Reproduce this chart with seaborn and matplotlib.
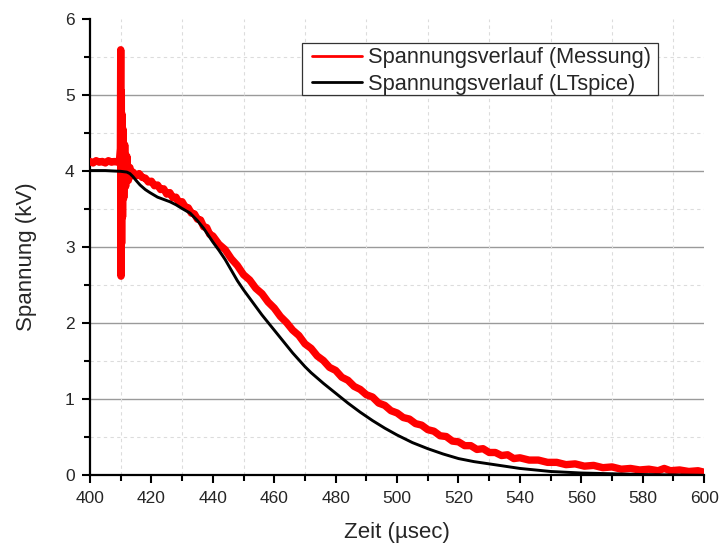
import matplotlib
matplotlib.use("Agg")
import matplotlib.pyplot as plt
from matplotlib.lines import Line2D
from matplotlib.patches import Rectangle
from matplotlib.ticker import MultipleLocator
import pandas as pd
import seaborn as sns

# Measured voltage (kV) over time (µs)
mess_t = [400, 401, 402, 403, 404, 405, 406, 407, 408, 409, 409.6,
          409.9, 410.0, 410.1, 410.2, 410.3, 410.45, 410.6, 410.8, 411.0,
          411.3, 411.6, 412.0, 412.5, 413.0, 413.5,
          414, 415, 416, 417, 418, 419, 420, 421, 422, 423, 424, 425, 426,
          427, 428, 429, 430, 431, 432, 433, 434, 435, 436, 437, 438, 439,
          440, 442, 444, 446, 448, 450, 452, 454, 456, 458,
          460, 462, 464, 466, 468, 470, 472, 474, 476, 478,
          480, 482, 484, 486, 488, 490, 492, 494, 496, 498,
          500, 502, 504, 506, 508, 510, 512, 514, 516, 518,
          520, 522, 524, 526, 528, 530, 532, 534, 536, 538, 540,
          543, 546, 549, 552, 555, 558, 561, 564, 567, 570, 573, 576, 579,
          582, 585, 587, 589, 592, 595, 598, 600]
mess_v = [4.13, 4.11, 4.14, 4.12, 4.13, 4.11, 4.14, 4.12, 4.13, 4.12, 4.15,
          4.30, 5.60, 2.62, 5.05, 3.05, 4.75, 3.40, 4.55, 3.65,
          4.35, 3.80, 4.20, 3.88, 4.05, 3.94,
          3.99, 3.94, 3.97, 3.92, 3.91, 3.86, 3.87, 3.81, 3.82, 3.76, 3.77,
          3.70, 3.72, 3.65, 3.66, 3.59, 3.60, 3.53, 3.52, 3.45, 3.44, 3.37,
          3.36, 3.27, 3.26, 3.17,
          3.15, 3.04, 2.97, 2.85, 2.76, 2.64, 2.57, 2.46, 2.39, 2.28,
          2.20, 2.09, 2.01, 1.91, 1.84, 1.73, 1.67, 1.57, 1.51, 1.42,
          1.38, 1.29, 1.25, 1.17, 1.13, 1.06, 1.03, 0.95, 0.92, 0.85,
          0.82, 0.76, 0.74, 0.68, 0.66, 0.60, 0.58, 0.52, 0.51, 0.45,
          0.44, 0.39, 0.39, 0.34, 0.35, 0.30, 0.30, 0.26, 0.27, 0.22, 0.23,
          0.20, 0.20, 0.17, 0.17, 0.14, 0.15, 0.12, 0.13, 0.10, 0.11, 0.08,
          0.09, 0.07, 0.08, 0.06, 0.09, 0.06, 0.07, 0.05, 0.06, 0.04]

# LTspice simulation
sim_t = [400, 405, 410, 412, 413, 414, 415, 416.3, 418, 419.5, 422, 424,
         426, 428, 430, 432.6, 435, 437, 440, 442, 444, 446, 448, 450, 452,
         454, 456, 458, 460, 462, 464, 466, 468, 470, 472, 474, 476, 478,
         480, 484, 488, 492, 496, 500, 505, 510, 515, 520, 525, 530, 535,
         540, 545, 550, 555, 560, 570, 580, 590, 600]
sim_v = [4.01, 4.01, 4.00, 3.99, 3.97, 3.93, 3.88, 3.82, 3.76, 3.72, 3.66,
         3.63, 3.60, 3.56, 3.51, 3.45, 3.35, 3.25, 3.07, 2.96, 2.84, 2.70,
         2.56, 2.44, 2.33, 2.22, 2.11, 2.01, 1.91, 1.81, 1.71, 1.61, 1.52,
         1.43, 1.35, 1.28, 1.21, 1.145, 1.08, 0.95, 0.83, 0.72, 0.62, 0.53,
         0.43, 0.35, 0.28, 0.22, 0.18, 0.15, 0.12, 0.09, 0.07, 0.05, 0.04,
         0.03, 0.02, 0.01, 0.005, 0.0]

x_ticks = [400, 420, 440, 460, 480, 500, 520, 540, 560, 580, 600]
y_ticks = [0, 1, 2, 3, 4, 5, 6]

labels = ["Spannungsverlauf (Messung)", "Spannungsverlauf (LTspice)"]
colors = ["#ff0000", "#000000"]

sns.set_style("white")
plt.rcParams["font.family"] = ["Liberation Sans", "DejaVu Sans"]

fig = plt.figure(figsize=(7.2, 5.48), dpi=100)
ax = fig.add_axes([0.125, 0.1327, 0.853, 0.832])

df_m = pd.DataFrame({"t": mess_t, "v": mess_v})
df_s = pd.DataFrame({"t": sim_t, "v": sim_v})

sns.lineplot(data=df_m, x="t", y="v", ax=ax, color=colors[0], lw=5.3,
             estimator=None, sort=False, zorder=3)
sns.lineplot(data=df_s, x="t", y="v", ax=ax, color=colors[1], lw=2.1,
             estimator=None, sort=False, zorder=4)

ax.set_xlim(400, 600)
ax.set_ylim(0, 6)
ax.set_xticks(x_ticks)
ax.set_yticks(y_ticks)
ax.xaxis.set_minor_locator(MultipleLocator(10))
ax.yaxis.set_minor_locator(MultipleLocator(0.5))

# grid: solid grey at inner major y ticks, dashed light at minor positions
for yv in y_ticks[1:-1]:
    ax.axhline(yv, color="#9a9a9a", lw=1.0, zorder=1)
for k in range(6):
    ax.axhline(0.5 + k, color="#dcdcdc", lw=0.8, ls=(0, (3, 3)), zorder=1)
for xv in range(410, 600, 20):
    ax.axvline(xv, color="#dcdcdc", lw=0.8, ls=(0, (3, 3)), zorder=1)

for s in ["top", "right"]:
    ax.spines[s].set_visible(False)
for s in ["left", "bottom"]:
    ax.spines[s].set_color("black")
    ax.spines[s].set_linewidth(1.6)

ax.tick_params(which="major", direction="out", length=6, width=1.5,
               labelsize=12.5, color="black", pad=5, bottom=True, left=True)
ax.tick_params(which="minor", direction="out", length=4, width=1.5,
               color="black", bottom=True, left=True)

ax.set_xlabel("Zeit (µsec)", fontsize=16)
ax.set_ylabel("Spannung (kV)", fontsize=16)
ax.xaxis.set_label_coords(0.5, -0.103)
ax.yaxis.set_label_coords(-0.086, 0.479)

# legend box drawn as a plain rectangle behind the entries
ax.add_patch(Rectangle((0.3448, 0.834), 0.5802, 0.114, transform=ax.transAxes,
                       facecolor="white", edgecolor="#333333", lw=0.9,
                       zorder=5, clip_on=False))
handles = [Line2D([], [], color=colors[0], lw=2.0),
           Line2D([], [], color=colors[1], lw=2.0)]
leg = ax.legend(handles, labels, loc="upper left",
                bbox_to_anchor=(0.3616, 0.939), fontsize=15.7, frameon=False,
                borderpad=0, handlelength=2.3, handletextpad=0.25,
                labelspacing=0.27, borderaxespad=0)
leg.set_zorder(6)

fig.savefig("out.png", dpi=100)
